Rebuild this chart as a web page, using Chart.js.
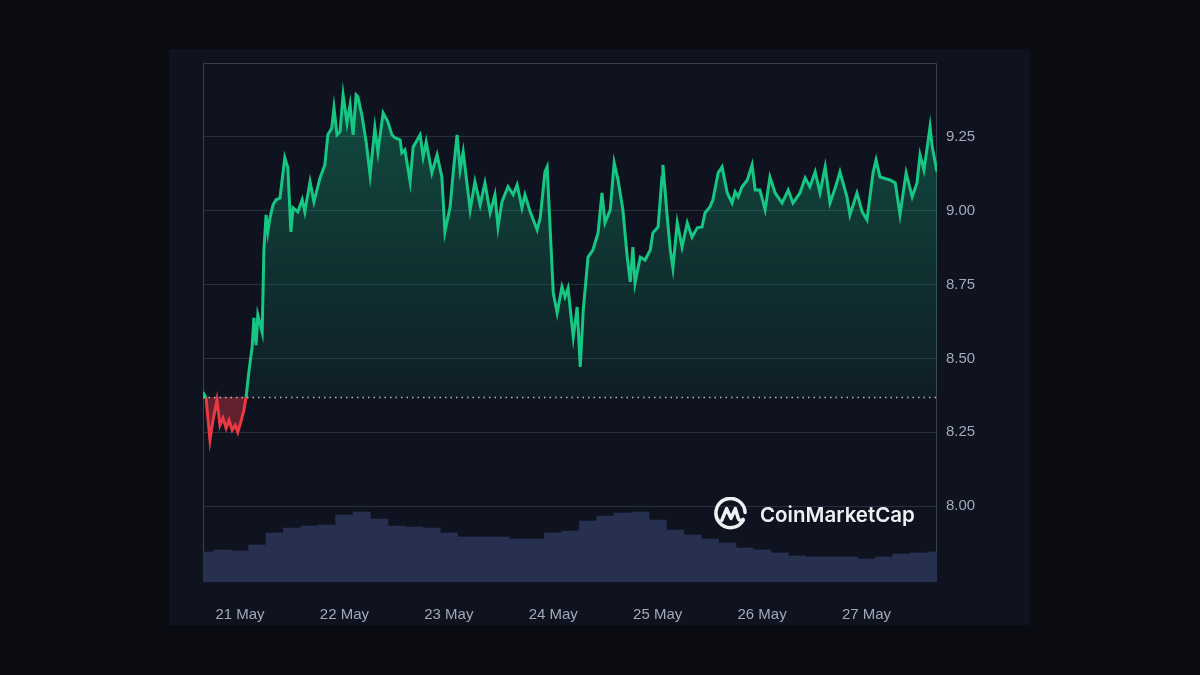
<!DOCTYPE html>
<html>
<head>
<meta charset="utf-8">
<script src="https://cdn.jsdelivr.net/npm/chart.js@4.4.1/dist/chart.umd.min.js"></script>
<style>
  html, body { margin: 0; padding: 0; background: #0b0c11; }
  #panel { position: absolute; left: 169px; top: 49px; width: 861px; height: 576px; background: #0f1320; }
  #chart { position: absolute; left: 0; top: 0; }
  #brand { position: absolute; left: 544px; top: 448px; display: flex; align-items: center;
           color: #eef0f4; font-family: Inter, "Open Sans", sans-serif; font-weight: 600; font-size: 20.5px; }
  #brand svg { margin-right: 12px; }
</style>
</head>
<body>
<div id="panel">
  <canvas id="chart" width="861" height="576"></canvas>
  <div id="brand">
    <svg width="35" height="35" viewBox="0 0 36 36">
      <path d="M31 24 A15 15 0 1 1 33 16" fill="none" stroke="#eef0f4" stroke-width="3.6" stroke-linecap="round"/>
      <path d="M9 24 L14 12 L18.5 22 L23 12 L26 22 Q27.5 26 31 23" fill="none" stroke="#eef0f4" stroke-width="3.6" stroke-linecap="round" stroke-linejoin="round"/>
    </svg>
    <span>CoinMarketCap</span>
  </div>
</div>
<script>
// 시간: 21 May 00:00 기준 (시간 단위)
const priceHours = [-8.5, -7.8, -6.9, -6.2, -5.3, -4.6, -3.9, -3.2, -2.5, -1.8, -1.1, -0.5, 0.2, 0.9, 1.4, 2.1, 2.8, 3.2, 3.7, 4.1,
  5.1, 5.5, 6.0, 6.4, 6.9, 7.6, 8.3, 9.2, 10.3, 11.0, 11.7, 12.2, 13.3, 14.3, 14.9, 16.1, 17.0, 18.4, 19.5, 20.2,
  21.1, 21.6, 22.3, 23.0, 23.7, 24.6, 25.3, 26.0, 26.7, 27.1, 28.0, 29.0, 29.9, 31.0, 31.7, 32.9, 34.0, 34.9, 35.6, 36.8,
  37.2, 37.9, 39.1, 39.8, 41.4, 42.1, 42.8, 44.1, 45.3, 46.4, 47.1, 48.3, 49.0, 49.9, 50.6, 51.3, 52.9, 54.0, 55.2, 56.3,
  57.5, 58.6, 59.3, 60.2, 61.6, 62.8, 63.7, 64.8, 65.5, 66.7, 68.3, 69.0, 70.1, 70.6, 71.3, 72.0, 72.9, 74.0, 74.7, 75.4,
  76.6, 77.5, 78.2, 78.9, 80.0, 81.1, 82.3, 83.2, 83.9, 85.1, 86.0, 86.9, 88.0, 89.0, 89.7, 90.3, 90.8, 92.0, 93.1, 94.3,
  94.9, 96.1, 97.0, 97.2, 98.2, 98.9, 99.5, 100.5, 101.6, 102.8, 103.9, 105.1, 106.2, 106.9, 108.0, 108.7, 109.9, 110.8, 112.0, 113.1,
  113.8, 114.5, 115.4, 116.6, 117.7, 118.4, 119.5, 120.7, 121.8, 123.0, 124.6, 126.0, 127.1, 128.7, 129.9, 131.0, 132.2, 133.3, 134.5, 135.6,
  136.8, 137.9, 139.5, 140.2, 141.8, 143.0, 144.1, 145.5, 146.2, 147.1, 149.4, 150.6, 151.7, 153.1, 154.5, 155.6, 156.3, 157.2, 158.2, 158.6,
  159.1, 160.2];

const prices = [8.386, 8.366, 8.224, 8.291, 8.359, 8.274, 8.298, 8.264, 8.291, 8.257, 8.274, 8.250, 8.285, 8.325, 8.369, 8.461, 8.539, 8.637, 8.545, 8.647,
  8.589, 8.867, 8.986, 8.928, 8.976, 9.020, 9.037, 9.043, 9.179, 9.145, 8.928, 9.010, 8.996, 9.037, 8.996, 9.098, 9.030, 9.111, 9.155, 9.257,
  9.280, 9.348, 9.257, 9.267, 9.392, 9.297, 9.358, 9.257, 9.392, 9.386, 9.325, 9.233, 9.121, 9.280, 9.199, 9.331, 9.301, 9.257, 9.247, 9.240,
  9.196, 9.206, 9.098, 9.216, 9.257, 9.182, 9.233, 9.128, 9.189, 9.114, 8.928, 9.013, 9.128, 9.257, 9.138, 9.199, 9.003, 9.098, 9.020, 9.094,
  8.993, 9.054, 8.945, 9.030, 9.081, 9.054, 9.087, 9.010, 9.054, 8.996, 8.935, 8.976, 9.131, 9.148, 8.935, 8.722, 8.654, 8.742, 8.708, 8.738,
  8.572, 8.674, 8.471, 8.664, 8.843, 8.867, 8.925, 9.060, 8.959, 9.003, 9.162, 9.104, 9.003, 8.843, 8.759, 8.877, 8.755, 8.843, 8.833, 8.867,
  8.925, 8.945, 9.114, 9.155, 8.979, 8.867, 8.806, 8.959, 8.877, 8.959, 8.911, 8.942, 8.945, 8.993, 9.013, 9.037, 9.128, 9.148, 9.060, 9.026,
  9.064, 9.047, 9.081, 9.104, 9.155, 9.070, 9.070, 9.003, 9.114, 9.060, 9.026, 9.070, 9.026, 9.060, 9.111, 9.081, 9.131, 9.060, 9.148, 9.026,
  9.077, 9.131, 9.047, 8.986, 9.060, 8.996, 8.969, 9.128, 9.172, 9.114, 9.104, 9.094, 8.986, 9.128, 9.047, 9.094, 9.189, 9.138, 9.240, 9.284,
  9.216, 9.131];

// 거래량 (4시간 간격)
const volumeHours = [-8, -4, 0, 4, 8, 12, 16, 20, 24, 28, 32, 36, 40, 44, 48, 52, 56, 60, 64, 68, 72, 76, 80, 84, 88, 92,
  96, 100, 104, 108, 112, 116, 120, 124, 128, 132, 136, 140, 144, 148, 152, 156, 160];
const volumes = [30, 32, 31, 37, 49, 54, 56, 57, 67, 70, 63, 56, 55, 54, 49, 45, 45, 45, 43, 43, 49, 51, 61, 66, 69, 70,
  62, 52, 47, 43, 39, 34, 32, 29, 26, 25, 25, 25, 23, 25, 28, 29, 30];

const dayLabels = ["21 May", "22 May", "23 May", "24 May", "25 May", "26 May", "27 May"];
const dayHours = [0, 24, 48, 72, 96, 120, 144];
const priceTicks = [8.00, 8.25, 8.50, 8.75, 9.00, 9.25];
const openPrice = 8.369;

const GREEN = "#16c784";
const RED = "#ea3943";
const TEXT = "#a3a8b8";
const GRID = "#2a2f3c";
const FRAME = "#3a404d";

const priceData = priceHours.map((h, i) => ({ x: h, y: prices[i] }));
const volumeData = volumeHours.map((h, i) => ({ x: h, y: volumes[i] }));

// 시작가 점선과 플롯 테두리
const framePlugin = {
  id: "frame",
  beforeDatasetsDraw(chart) {
    const { ctx, chartArea: a } = chart;
    ctx.save();
    ctx.strokeStyle = FRAME;
    ctx.lineWidth = 1;
    ctx.beginPath();
    ctx.moveTo(a.left + 0.5, a.bottom);
    ctx.lineTo(a.left + 0.5, a.top + 0.5);
    ctx.lineTo(a.right - 0.5, a.top + 0.5);
    ctx.lineTo(a.right - 0.5, a.bottom);
    ctx.stroke();
    ctx.restore();
  },
  afterDatasetsDraw(chart) {
    const { ctx, chartArea: a, scales } = chart;
    const y = Math.round(scales.y.getPixelForValue(openPrice)) + 0.5;
    ctx.save();
    ctx.strokeStyle = "rgba(220,224,232,0.8)";
    ctx.setLineDash([1.5, 4]);
    ctx.lineWidth = 1.5;
    ctx.beginPath();
    ctx.moveTo(a.left, y);
    ctx.lineTo(a.right, y);
    ctx.stroke();
    ctx.restore();
  }
};

function greenFill(context) {
  const { ctx, chartArea, scales } = context.chart;
  if (!chartArea) return "rgba(22,199,132,0.2)";
  const top = scales.y.getPixelForValue(9.4);
  const bottom = scales.y.getPixelForValue(openPrice);
  const g = ctx.createLinearGradient(0, top, 0, bottom);
  g.addColorStop(0, "rgba(22,199,132,0.32)");
  g.addColorStop(1, "rgba(22,199,132,0.06)");
  return g;
}

new Chart(document.getElementById("chart"), {
  data: {
    datasets: [
      {
        type: "line",
        data: priceData,
        yAxisID: "y",
        borderColor: GREEN,
        borderWidth: 3,
        pointRadius: 0,
        tension: 0,
        fill: { target: { value: openPrice }, above: greenFill, below: "rgba(234,57,67,0.38)" },
        segment: {
          borderColor: c => (c.p0.parsed.y < openPrice && c.p1.parsed.y <= openPrice + 0.01) ? RED : GREEN
        },
        order: 1
      },
      {
        type: "bar",
        data: volumeData,
        yAxisID: "yv",
        backgroundColor: "#283050",
        barPercentage: 1,
        categoryPercentage: 1,
        borderWidth: 0,
        order: 2
      }
    ]
  },
  options: {
    responsive: false,
    animation: false,
    layout: { padding: { left: 34, top: 14, right: 0, bottom: 0 } },
    plugins: { legend: { display: false }, tooltip: { enabled: false } },
    scales: {
      x: {
        type: "linear",
        min: -8.5,
        max: 160.2,
        offset: false,
        grid: { display: false },
        border: { display: false },
        afterBuildTicks: s => { s.ticks = dayHours.map(v => ({ value: v })); },
        afterFit: s => { s.height = 43; s.paddingLeft = 0; s.paddingRight = 0; },
        ticks: {
          color: TEXT,
          font: { family: "'Liberation Sans', Arial, sans-serif", size: 15 },
          padding: 16,
          maxRotation: 0,
          autoSkip: false,
          callback: v => dayLabels[dayHours.indexOf(v)]
        }
      },
      y: {
        position: "right",
        min: 7.743,
        max: 9.5,
        grid: { color: GRID, drawTicks: false },
        border: { display: false },
        afterBuildTicks: s => { s.ticks = priceTicks.map(v => ({ value: v })); },
        afterFit: s => { s.width = 93; s.paddingTop = 0; s.paddingBottom = 0; },
        ticks: {
          color: TEXT,
          font: { family: "'Liberation Sans', Arial, sans-serif", size: 15 },
          padding: 9,
          callback: v => v.toFixed(2)
        }
      },
      yv: {
        display: false,
        min: 0,
        max: 519
      }
    }
  },
  plugins: [framePlugin]
});
</script>
</body>
</html>
